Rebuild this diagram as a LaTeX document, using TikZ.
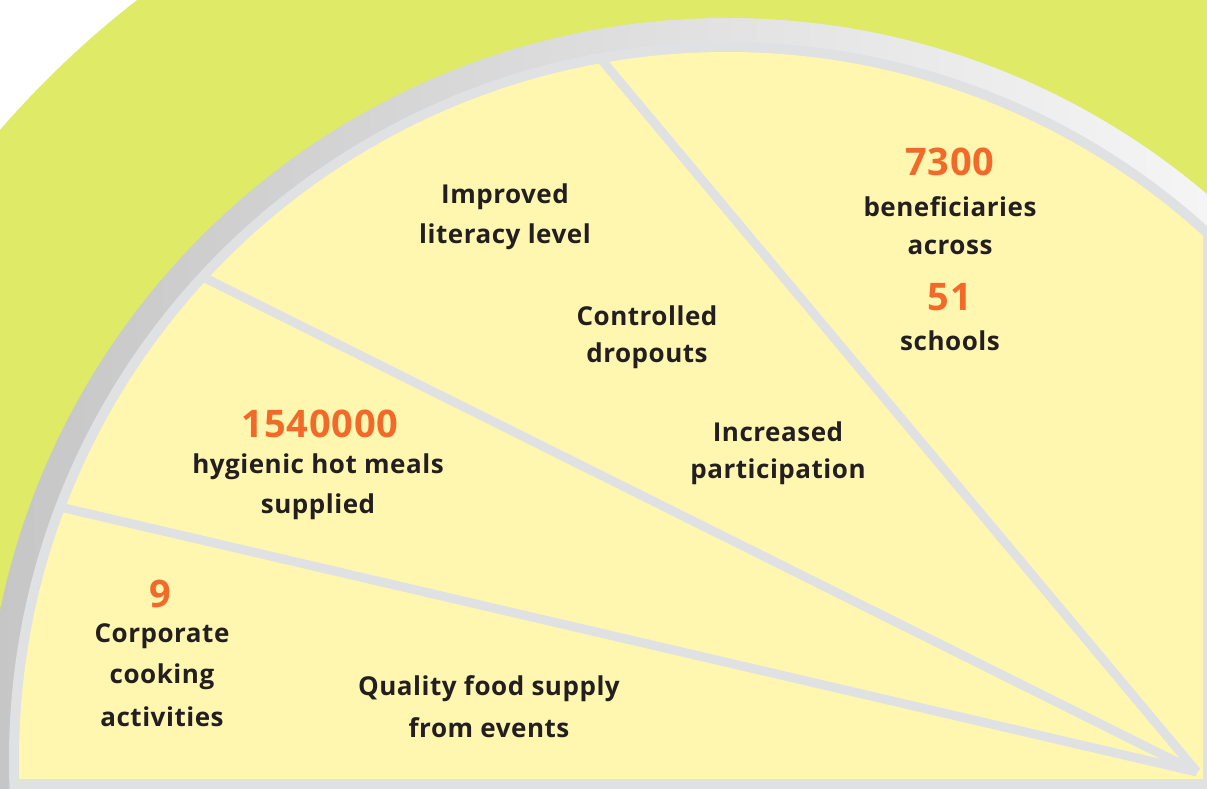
\documentclass[tikz,border=0pt]{standalone}
\usepackage{fontspec}
\setmainfont{Open Sans}[LetterSpace=2]
\definecolor{lgreen}{HTML}{DFEA67}
\definecolor{ringgray}{HTML}{E0E1E3}
\definecolor{pale}{HTML}{FFF6B0}
\definecolor{orng}{HTML}{F26A2A}
\definecolor{ink}{HTML}{231F20}
\begin{document}
\begin{tikzpicture}[x=1pt,y=-1pt,
  lab/.style={font=\bfseries\fontsize{26}{40}\selectfont, text=ink, align=center, inner sep=0pt},
  num/.style={font=\bfseries\fontsize{38}{40}\selectfont, text=orng, inner sep=0pt},
  spoke/.style={draw=ringgray, line width=9pt}]
\useasboundingbox (0,0) rectangle (1207,788);
\fill[white] (0,0) rectangle (1207,788);
\coordinate (ctr) at (727,760);
\begin{scope}
  \clip (0,0) rectangle (1207,788);
  \fill[lgreen] (ctr) circle[radius=962pt];
  \shade[left color=gray!45, right color=white] (ctr) circle[radius=742pt];
  \fill[ringgray] (ctr) circle[radius=718pt];
  \begin{scope}
    \clip (0,0) rectangle (1203,778);
    \fill[pale] (ctr) circle[radius=708pt];
    \clip (ctr) circle[radius=715pt];
    \coordinate (hub) at (1197,772);
    \coordinate (e1) at (600,58);
    \coordinate (e2) at (203,277);
    \coordinate (e3) at (60,507);
    \draw[spoke] (hub) -- (e1);
    \draw[spoke] (hub) -- (e2);
    \draw[spoke] (hub) -- (e3);
  \end{scope}
\end{scope}
% texts
\node[num] (n7300) at (950,162) {7300};
\node[lab] (t1a) at (950,207) {beneficiaries};
\node[lab] (t1b) at (950,247) {across};
\node[num] (n51) at (950,297) {51};
\node[lab] (t1c) at (950,341) {schools};
\node[lab] (t2a) at (505,197) {Improved};
\node[lab] (t2b) at (505,237) {literacy level};
\node[lab] (t3a) at (647,316) {Controlled};
\node[lab] (t3b) at (647,356) {dropouts};
\node[lab] (t4a) at (778,432) {Increased};
\node[lab] (t4b) at (778,472) {participation};
\node[num] (n154) at (320,424) {1540000};
\node[lab] (t5a) at (318,467) {hygienic hot meals};
\node[lab] (t5b) at (318,507) {supplied};
\node[num] (n9) at (160,594) {9};
\node[lab] (t6a) at (162,636) {Corporate};
\node[lab] (t6b) at (162,677) {cooking};
\node[lab] (t6c) at (162,717) {activities};
\node[lab] (t7a) at (489,689) {Quality food supply};
\node[lab] (t7b) at (489,728) {from events};
\end{tikzpicture}
\end{document}
